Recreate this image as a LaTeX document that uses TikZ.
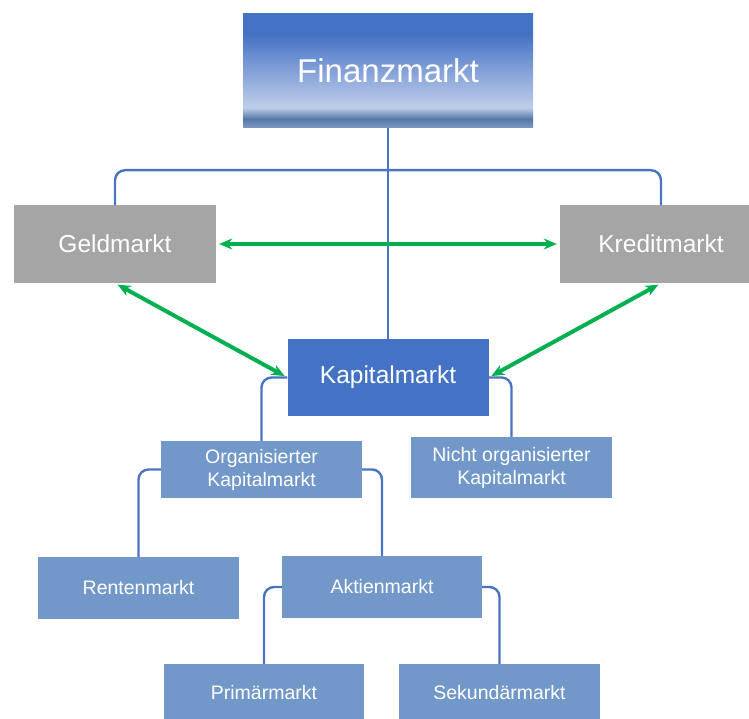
\documentclass[tikz,border=0pt]{standalone}
\usepackage{fontspec}
\setsansfont{Liberation Sans}
\usetikzlibrary{positioning, arrows.meta, calc}
\definecolor{bgDark}{HTML}{4472C4}
\definecolor{bgLight}{HTML}{7298CA}
\definecolor{bgGrey}{HTML}{A5A5A5}
\definecolor{lineBlue}{HTML}{4A74C2}
\definecolor{arrowGreen}{HTML}{00B050}
\definecolor{finBand}{HTML}{5478A8}
\definecolor{finBandLow}{HTML}{7F9CC2}
\definecolor{finPale}{HTML}{BFCEEA}
\definecolor{finMid}{HTML}{7C9BD6}
\pgfdeclareverticalshading{finshade}{100bp}{%
  color(0bp)=(finBandLow); color(25bp)=(finBandLow); color(29bp)=(finBand);
  color(34bp)=(finPale); color(52bp)=(finMid); color(66bp)=(bgDark);
  color(75bp)=(bgDark); color(100bp)=(bgDark)}
\tikzset{
  topbox/.style={shading=finshade, inner sep=0pt,
    minimum width=290pt, minimum height=114pt,
    font=\sffamily\fontsize{33}{38}\selectfont, text=white, align=center},
  greybox/.style={fill=bgGrey, inner sep=0pt,
    minimum width=202pt, minimum height=78pt,
    font=\sffamily\fontsize{24.5}{28}\selectfont, text=white, align=center},
  mainbox/.style={fill=bgDark, inner sep=0pt,
    minimum width=201pt, minimum height=77pt,
    font=\sffamily\fontsize{24.5}{28}\selectfont, text=white, align=center},
  subbox/.style={fill=bgLight, inner sep=0pt,
    minimum width=201pt, minimum height=62pt,
    font=\sffamily\fontsize{19.5}{23}\selectfont, text=white, align=center},
  conn/.style={draw=lineBlue, line width=2.4pt, rounded corners=10pt},
  greenarrow/.style={{Stealth[length=13pt, width=11pt]}-{Stealth[length=13pt, width=11pt]},
    line width=4pt, color=arrowGreen, shorten <=3pt, shorten >=3pt},
}
\begin{document}
\begin{tikzpicture}[x=1pt, y=-1pt]
  \useasboundingbox (0,0) rectangle (749,719);

  % === Top: Finanzmarkt ===
  \node[topbox] (fin) at (388,71) {Finanzmarkt};

  % === Row 2: Geldmarkt / Kreditmarkt / Kapitalmarkt ===
  \node[greybox] (geld) at (115,244) {Geldmarkt};
  \node[greybox] (kredit) at (661,244) {Kreditmarkt};
  \node[mainbox] (kap) at (388,377.5) {Kapitalmarkt};

  % === Row 3: organised / not organised ===
  \node[subbox, minimum height=57pt] (org) at (261.5,469.5) {Organisierter\\Kapitalmarkt};
  \node[subbox, minimum height=61pt] (nicht) at (511.5,467.5) {Nicht organisierter\\Kapitalmarkt};

  % === Row 4: Renten / Aktien ===
  \node[subbox] (renten) at (138.5,588) {Rentenmarkt};
  \node[subbox, minimum width=200pt] (aktien) at (382,587) {Aktienmarkt};

  % === Row 5: Primaer / Sekundaer ===
  \node[subbox, minimum width=200pt, minimum height=58pt] (prim) at (264,693) {Primärmarkt};
  \node[subbox, minimum width=201pt, minimum height=58pt] (sek) at (499.5,693) {Sekundärmarkt};

  % Tree lines
  \coordinate (bracket) at ([yshift=-42pt]fin.south);
  \draw[conn] (fin.south) -- (kap.north);
  \draw[conn] (geld.north) |- (bracket) -| (kredit.north);
  \draw[conn] (kap.west) -| (org.north);
  \draw[conn] (kap.east) -| (nicht.north);
  \draw[conn] (org.west) -| (renten.north);
  \draw[conn] (org.east) -| (aktien.north);
  \draw[conn] (aktien.west) -| (prim.north);
  \draw[conn] (aktien.east) -| (sek.north);

  % Green exchange arrows
  \draw[greenarrow] (geld.east) -- (kredit.west);
  \draw[greenarrow] (geld.south) -- (kap.west);
  \draw[greenarrow] (kredit.south) -- (kap.east);

\end{tikzpicture}
\end{document}
